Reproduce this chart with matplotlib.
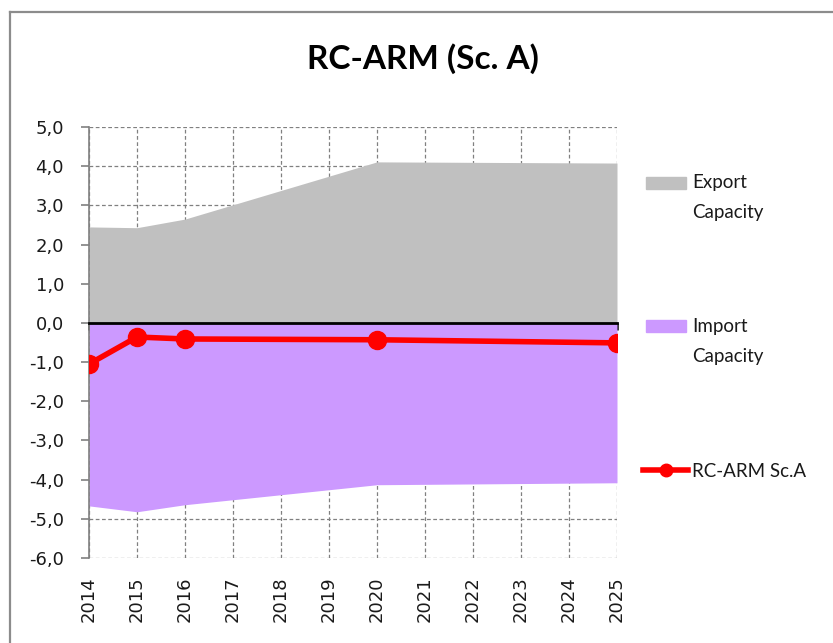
import matplotlib

matplotlib.use("Agg")

import matplotlib.pyplot as plt
from matplotlib.lines import Line2D
from matplotlib.patches import Rectangle

years = [2014, 2015, 2016, 2020, 2025]
export_capacity = [2.45, 2.43, 2.65, 4.11, 4.08]
import_capacity = [-4.67, -4.82, -4.64, -4.13, -4.08]
rc_arm_sc_a = [-1.05, -0.36, -0.41, -0.43, -0.51]

year_ticks = list(range(2014, 2026))
y_ticks = list(range(-6, 6))

GREY = "#c0c0c0"
PURPLE = "#cc99ff"
RED = "#ff0000"

W, H = 833, 643
fig = plt.figure(figsize=(W / 100, H / 100), dpi=100)
ax = fig.add_axes([89 / W, 1 - 558 / H, (617 - 89) / W, (558 - 127) / H])

ax.fill_between(years, 0, export_capacity, color=GREY, lw=0, zorder=1)
ax.fill_between(years, 0, import_capacity, color=PURPLE, lw=0, zorder=1)
ax.plot(years, rc_arm_sc_a, color=RED, lw=4, marker="o", markersize=13,
        zorder=4, solid_capstyle="round")

ax.set_xlim(2014, 2025)
ax.set_ylim(-6, 5)
ax.set_axisbelow(True)
ax.grid(True, color="#808080", lw=0.9, linestyle=(0, (3, 2)))

# category axis crosses at zero, labels sit at the bottom
ax.spines["bottom"].set_position(("data", 0))
ax.spines["bottom"].set_color("black")
ax.spines["bottom"].set_linewidth(2)
ax.spines["bottom"].set_zorder(3)
ax.spines["top"].set_visible(False)
ax.spines["right"].set_visible(False)
ax.spines["left"].set_color("#808080")
ax.spines["left"].set_linewidth(1.2)
ax.spines["left"].set_zorder(3)

ax.set_xticks(year_ticks)
ax.tick_params(axis="x", direction="out", length=5, width=1.8, color="black",
               labelbottom=False)
ax.set_yticks(y_ticks)
ax.set_yticklabels([f"{v:.1f}".replace(".", ",") for v in y_ticks],
                   fontsize=13, family="DejaVu Sans", color="#1a1a1a")
ax.tick_params(axis="y", direction="out", length=6, width=1.2, color="#808080", pad=12)

sec = ax.secondary_xaxis("bottom")
sec.spines["bottom"].set_visible(False)
sec.set_xticks(year_ticks)
sec.set_xticklabels([str(y) for y in year_ticks], rotation=90, fontsize=13,
                    family="DejaVu Sans", color="#1a1a1a")
sec.tick_params(axis="x", length=0, pad=13)

fig.text(423 / W, 1 - 69 / H, "RC-ARM (Sc. A)", ha="center", va="baseline",
         fontsize=24, fontweight="bold", family="Lato", color="black")

# legend entries
lx, tx = 646 / W, 692 / W
leg_font = dict(fontsize=13.5, family="Lato", color="#1a1a1a", va="baseline")
fig.add_artist(Rectangle((lx, 1 - 189 / H), 40 / W, 12 / H, color=GREY,
                         transform=fig.transFigure))
fig.text(tx, 1 - 188 / H, "Export", **leg_font)
fig.text(tx, 1 - 218 / H, "Capacity", **leg_font)
fig.add_artist(Rectangle((lx, 1 - 332 / H), 40 / W, 12 / H, color=PURPLE,
                         transform=fig.transFigure))
fig.text(tx, 1 - 332 / H, "Import", **leg_font)
fig.text(tx, 1 - 362 / H, "Capacity", **leg_font)
fig.add_artist(Line2D([643 / W, 688 / W], [1 - 470 / H] * 2, color=RED, lw=4,
                      marker="o", markersize=9, markevery=[], transform=fig.transFigure))
fig.add_artist(Line2D([666 / W], [1 - 470 / H], color=RED, marker="o", markersize=9,
                      lw=0, transform=fig.transFigure))
fig.text(tx, 1 - 477 / H, "RC-ARM Sc.A", **leg_font)

# chart area frame
frame = dict(color="#8c8c8c", lw=1.6, transform=fig.transFigure)
fig.add_artist(Line2D([10 / W, 1], [1 - 12 / H] * 2, **frame))
fig.add_artist(Line2D([10 / W] * 2, [0, 1 - 12 / H], **frame))

fig.savefig("out.png", dpi=100)
